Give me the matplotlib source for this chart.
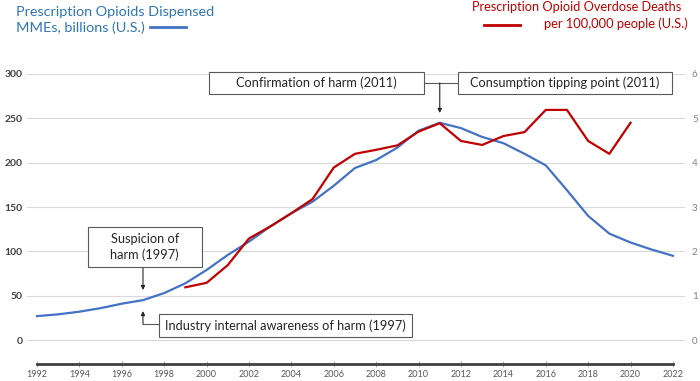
import matplotlib
matplotlib.use("Agg")
import matplotlib.pyplot as plt
from matplotlib.patches import Rectangle

plt.rcParams['font.family'] = ['Lato', 'DejaVu Sans']

# prescription opioids dispensed, MMEs in billions (left axis)
years = list(range(1992, 2023))
mme = [27, 29, 32, 36, 41, 45, 53, 64, 79, 96, 111, 128, 143, 156, 174, 194, 203, 217, 236, 245,
       239, 229, 222, 210, 197, 169, 140, 120, 110, 102, 95]

# prescription opioid overdose deaths per 100,000 (right axis)
death_years = list(range(1999, 2021))
deaths = [1.19, 1.29, 1.69, 2.29, 2.56, 2.86, 3.18, 3.89, 4.2, 4.29, 4.39, 4.7, 4.89, 4.49, 4.4,
          4.6, 4.69, 5.19, 5.19, 4.49, 4.2, 4.9]

left_ticks = [0, 50, 100, 150, 200, 250, 300]
right_ticks = [0, 1, 2, 3, 4, 5, 6]
x_ticks = list(range(1992, 2023, 2))

BLUE = '#4472C4'
RED = '#C00000'
EDGE = '#595959'

fig = plt.figure(figsize=(7, 3.81), dpi=100)
ax = fig.add_axes([0.0386, 0.0446, 0.94, 0.7612])
ax2 = ax.twinx()

ax.set_xlim(1991.53, 2022.57)
ax.set_ylim(-27, 300)
ax2.set_ylim(-27 / 50, 6)

# grid
for v in left_ticks:
    ax.axhline(v, color='#d9d9d9', lw=0.8, zorder=0)

ax.plot(years, mme, color=BLUE, lw=1.6, zorder=3)
ax2.plot(death_years, deaths, color=RED, lw=1.6, zorder=3)

for a in (ax, ax2):
    for s in ('left', 'right', 'top'):
        a.spines[s].set_visible(False)
ax2.spines['bottom'].set_visible(False)
ax.spines['bottom'].set_bounds(1992, 2022)
ax.spines['bottom'].set_color('#404040')
ax.spines['bottom'].set_linewidth(2)

ax.set_xticks(x_ticks)
ax.set_xticklabels([str(y) for y in x_ticks], fontsize=6.5, color='#595959')
ax.tick_params(axis='x', direction='inout', length=5, width=0.6, color='#a6a6a6', pad=2)

ax.set_yticks(left_ticks)
ax.set_yticklabels([str(v) for v in left_ticks], fontsize=7.5, color='#404040', fontweight='bold')
ax.tick_params(axis='y', length=0, pad=3)

ax2.set_yticks(right_ticks)
ax2.set_yticklabels([str(v) for v in right_ticks], fontsize=7, color='#808080')
ax2.tick_params(axis='y', length=0, pad=5)


def box(x0, x1, y0, y1, text):
    ax.add_patch(Rectangle((x0, y0), x1 - x0, y1 - y0, facecolor='white', edgecolor=EDGE,
                           lw=0.8, zorder=5, clip_on=False))
    ax.text((x0 + x1) / 2, (y0 + y1) / 2, text, ha='center', va='center', fontsize=9.2,
            color='#262626', zorder=6, clip_on=False, linespacing=1.3)


arrow = dict(arrowstyle='-|>', color='#262626', lw=0.8, mutation_scale=6, shrinkA=0, shrinkB=0)

# 2011 annotations
box(2000.11, 2010.25, 277.3, 302.5, 'Confirmation of harm (2011)')
box(2011.84, 2021.95, 277.3, 302.5, 'Consumption tipping point (2011)')
ax.plot([2010.25, 2011.84], [289.9, 289.9], color=EDGE, lw=0.8, zorder=4, clip_on=False)
ax.annotate('', xy=(2011, 256), xytext=(2011, 289.9), arrowprops=arrow, zorder=4)

# 1997 annotations
box(1994.4, 1999.77, 82, 127.7, 'Suspicion of\nharm (1997)')
ax.annotate('', xy=(1997, 56.4), xytext=(1997, 82), arrowprops=arrow, zorder=4)
box(1997.75, 2009.69, 3.4, 29.3, 'Industry internal awareness of harm (1997)')
ax.plot([1997.75, 1997], [18, 18], color=EDGE, lw=0.8, zorder=4)
ax.annotate('', xy=(1997, 32.7), xytext=(1997, 18), arrowprops=arrow, zorder=4)

# legend-style titles
fig.text(16 / 700, 1 - 12 / 381, 'Prescription Opioids Dispensed', color='#2E75B6',
         fontsize=10.4, ha='left', va='center')
fig.text(16 / 700, 1 - 28 / 381, 'MMEs, billions (U.S.)', color='#2E75B6',
         fontsize=10.4, ha='left', va='center')
fig.add_artist(plt.Line2D([150 / 700, 186 / 700], [1 - 27 / 381, 1 - 27 / 381],
                          color=BLUE, lw=2))

fig.text(681 / 700, 1 - 7 / 381, 'Prescription Opioid Overdose Deaths', color=RED,
         fontsize=9.2, ha='right', va='center')
fig.text(688 / 700, 1 - 24 / 381, 'per 100,000 people (U.S.)', color=RED,
         fontsize=9.3, ha='right', va='center')
fig.add_artist(plt.Line2D([484 / 700, 520 / 700], [1 - 25 / 381, 1 - 25 / 381],
                          color=RED, lw=2))

fig.savefig('out.png', dpi=100)
